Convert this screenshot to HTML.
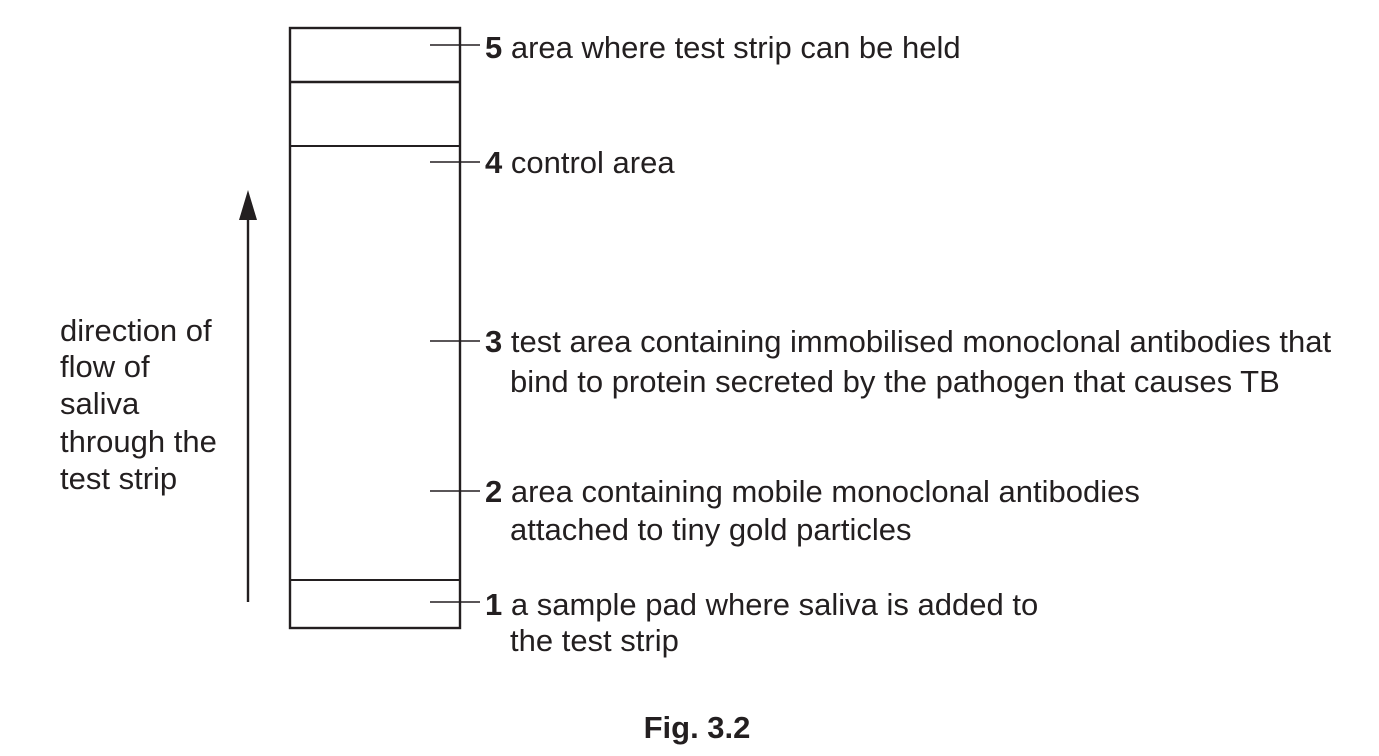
<!DOCTYPE html>
<html><head><meta charset="utf-8"><style>
body{margin:0;background:#fff}
svg text{font-family:"Liberation Sans",Arial,sans-serif;font-size:31px;fill:#231f20}
</style></head><body>
<svg width="1379" height="751" xmlns="http://www.w3.org/2000/svg">
<g stroke="#231f20" fill="none">
<rect x="290" y="28" width="170" height="600" stroke-width="2.4"/>
<line x1="290" y1="82" x2="460" y2="82" stroke-width="2.4"/>
<line x1="290" y1="146" x2="460" y2="146" stroke-width="2"/>
<line x1="290" y1="580" x2="460" y2="580" stroke-width="2"/>
<g stroke-width="1.5">
<line x1="430" y1="45" x2="480" y2="45"/>
<line x1="430" y1="162" x2="480" y2="162"/>
<line x1="430" y1="341" x2="480" y2="341"/>
<line x1="430" y1="491" x2="480" y2="491"/>
<line x1="430" y1="602" x2="480" y2="602"/>
</g>
<line x1="248" y1="215" x2="248" y2="602" stroke-width="2.4"/>
</g>
<polygon points="248,190 239,220 257,220" fill="#231f20"/>
<text x="485" y="58"><tspan font-weight="bold">5</tspan> area where test strip can be held</text>
<text x="485" y="173"><tspan font-weight="bold">4</tspan> control area</text>
<text x="485" y="352"><tspan font-weight="bold">3</tspan> test area containing immobilised monoclonal antibodies that</text>
<text x="510" y="392">bind to protein secreted by the pathogen that causes TB</text>
<text x="485" y="502"><tspan font-weight="bold">2</tspan> area containing mobile monoclonal antibodies</text>
<text x="510" y="540">attached to tiny gold particles</text>
<text x="485" y="615"><tspan font-weight="bold">1</tspan> a sample pad where saliva is added to</text>
<text x="510" y="651">the test strip</text>
<text x="60" y="341">direction of</text>
<text x="60" y="377">flow of</text>
<text x="60" y="414">saliva</text>
<text x="60" y="452">through the</text>
<text x="60" y="489">test strip</text>
<text x="697" y="738" font-weight="bold" text-anchor="middle">Fig. 3.2</text>
</svg>
</body></html>
